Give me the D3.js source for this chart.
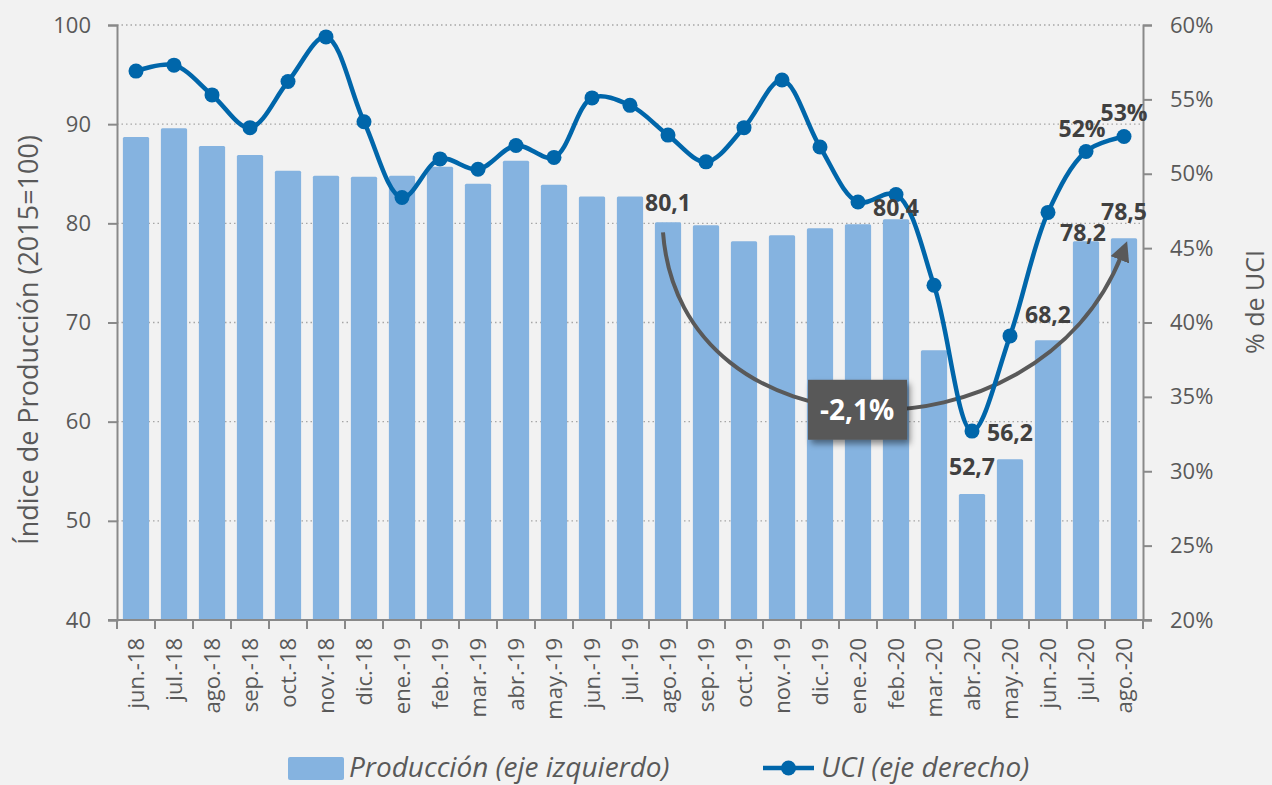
<!DOCTYPE html>
<html>
<head>
<meta charset="utf-8">
<script src="https://cdn.jsdelivr.net/npm/d3@7"></script>
<style>
  body { margin: 0; background: #f2f2f2; }
  svg { display: block; font-family: "Open Sans", sans-serif; }
</style>
</head>
<body>
<svg id="chart" width="1272" height="785"></svg>
<script>
let months = ['jun.-18','jul.-18','ago.-18','sep.-18','oct.-18','nov.-18','dic.-18',
  'ene.-19','feb.-19','mar.-19','abr.-19','may.-19','jun.-19','jul.-19','ago.-19',
  'sep.-19','oct.-19','nov.-19','dic.-19','ene.-20','feb.-20','mar.-20','abr.-20',
  'may.-20','jun.-20','jul.-20','ago.-20']

// indice de produccion (eje izquierdo)
let produccion = [88.7, 89.6, 87.8, 86.9, 85.3, 84.8, 84.7, 84.8, 85.7, 84.0, 86.3, 83.9,
  82.7, 82.7, 80.1, 79.8, 78.2, 78.8, 79.5, 79.9, 80.4, 67.2, 52.7, 56.2, 68.2, 78.2, 78.5]

// utilizacion de capacidad instalada, % (eje derecho)
let uci = [56.9, 57.3, 55.3, 53.1, 56.2, 59.2, 53.5, 48.4, 51.0, 50.3, 51.9, 51.1,
  55.1, 54.6, 52.6, 50.8, 53.1, 56.3, 51.8, 48.1, 48.6, 42.5, 32.7, 39.1, 47.4, 51.5, 52.5]

let leftTicks = [40, 50, 60, 70, 80, 90, 100]
let rightTicks = [20, 25, 30, 35, 40, 45, 50, 55, 60]

let barLabels = ['80,1', '80,4', '52,7', '56,2', '68,2', '78,2', '78,5']
let barLabelMonths = ['ago.-19', 'feb.-20', 'abr.-20', 'may.-20', 'jun.-20', 'jul.-20', 'ago.-20']
let uciLabels = ['52%', '53%']
let uciLabelMonths = ['jul.-20', 'ago.-20']
let changeText = '-2,1%'

let svg = d3.select('#chart')

let plotLeft = 117, plotRight = 1143, plotTop = 25, plotBottom = 620

let x = d3.scaleBand()
  .domain(months)
  .range([plotLeft, plotRight])
  .paddingInner(0.31)
  .paddingOuter(0.155)

let yL = d3.scaleLinear().domain([40, 100]).range([plotBottom, plotTop])
let yR = d3.scaleLinear().domain([20, 60]).range([plotBottom, plotTop])

let axisColor = '#898989'
let textColor = '#595959'
let barColor = '#85b3e0'
let lineColor = '#0066aa'

let defs = svg.append('defs')
let shadow = defs.append('filter').attr('id', 'shadow')
  .attr('x', '-30%').attr('y', '-30%').attr('width', '160%').attr('height', '170%')
shadow.append('feDropShadow')
  .attr('dx', 3).attr('dy', 4).attr('stdDeviation', 3)
  .attr('flood-color', '#000').attr('flood-opacity', 0.45)

defs.append('marker')
  .attr('id', 'arrow')
  .attr('viewBox', '0 0 10 10')
  .attr('refX', 3).attr('refY', 5)
  .attr('markerWidth', 5).attr('markerHeight', 5)
  .attr('orient', 'auto')
  .append('path')
  .attr('d', 'M0,0 L10,5 L0,10 z')
  .attr('fill', '#595959')

// grid lines
svg.append('g')
  .selectAll('line')
  .data(leftTicks.slice(1))
  .enter()
  .append('line')
  .attr('x1', plotLeft).attr('x2', plotRight)
  .attr('y1', (d) => yL(d)).attr('y2', (d) => yL(d))
  .attr('stroke', '#a6a6a6')
  .attr('stroke-width', 1.3)
  .attr('stroke-dasharray', '1.5,3')

// bars
svg.append('g')
  .selectAll('rect')
  .data(produccion)
  .enter()
  .append('rect')
  .attr('x', (d, i) => x(months[i]))
  .attr('y', (d) => yL(d))
  .attr('width', x.bandwidth())
  .attr('height', (d) => yL(40) - yL(d))
  .attr('fill', barColor)
  .attr('rx', 1.5)

// left axis
let axL = svg.append('g')
  .attr('transform', 'translate(' + plotLeft + ',0)')
  .call(d3.axisLeft(yL).tickValues(leftTicks).tickSize(9).tickPadding(17))
axL.select('.domain').attr('stroke', axisColor).attr('stroke-width', 2)
axL.selectAll('.tick line').attr('stroke', axisColor).attr('stroke-width', 2)
axL.selectAll('.tick text')
  .attr('fill', textColor)
  .style('font-size', '22px')
  .style('font-family', '"Open Sans", sans-serif')

// right axis
let axR = svg.append('g')
  .attr('transform', 'translate(' + plotRight + ',0)')
  .call(d3.axisRight(yR).tickValues(rightTicks).tickSize(9).tickPadding(18)
    .tickFormat((d) => d + '%'))
axR.select('.domain').attr('stroke', axisColor).attr('stroke-width', 2)
axR.selectAll('.tick line').attr('stroke', axisColor).attr('stroke-width', 2)
axR.selectAll('.tick text')
  .attr('fill', textColor)
  .style('font-size', '22px')
  .style('font-family', '"Open Sans", sans-serif')

// bottom axis
let step = x.step()
let axB = svg.append('g')
  .attr('transform', 'translate(0,' + plotBottom + ')')
  .call(d3.axisBottom(x).tickSize(0))
axB.select('.domain').remove()
axB.selectAll('.tick text')
  .attr('transform', 'rotate(-90)')
  .attr('text-anchor', 'end')
  .attr('x', -18)
  .attr('y', 0)
  .attr('dy', '0.36em')
  .attr('fill', textColor)
  .style('font-size', '22px')
  .style('font-family', '"Open Sans", sans-serif')

svg.append('line')
  .attr('x1', plotLeft - 9).attr('x2', plotRight + 9)
  .attr('y1', plotBottom).attr('y2', plotBottom)
  .attr('stroke', axisColor).attr('stroke-width', 2)

svg.append('g')
  .selectAll('line')
  .data(d3.range(months.length + 1))
  .enter()
  .append('line')
  .attr('x1', (k) => plotLeft + k * step).attr('x2', (k) => plotLeft + k * step)
  .attr('y1', plotBottom).attr('y2', plotBottom + 9)
  .attr('stroke', axisColor).attr('stroke-width', 2)

// axis titles
svg.append('text')
  .attr('transform', 'translate(29,' + 340 + ') rotate(-90)')
  .attr('text-anchor', 'middle')
  .attr('dy', '0.35em')
  .attr('fill', textColor)
  .style('font-size', '27px')
  .text('Índice de Producción (2015=100)')

svg.append('text')
  .attr('transform', 'translate(1255,' + 302 + ') rotate(-90)')
  .attr('text-anchor', 'middle')
  .attr('dy', '0.35em')
  .attr('fill', textColor)
  .style('font-size', '25px')
  .text('% de UCI')

// change arrow
let i0 = months.indexOf('ago.-19')
let i1 = months.indexOf('ago.-20')
let sx = x(months[i0]) + x.bandwidth() / 2 - 5
let sy = yL(produccion[i0]) + 10
let ex = x(months[i1]) + x.bandwidth() / 2 - 2
let ey = yL(produccion[i1]) + 16
let c1 = [sx + 17, sy + 228]
let c2 = [ex - 85, ey + 216]

let arc = d3.path()
arc.moveTo(sx, sy)
arc.bezierCurveTo(c1[0], c1[1], c2[0], c2[1], ex, ey)

svg.append('path')
  .attr('d', arc.toString())
  .attr('fill', 'none')
  .attr('stroke', '#595959')
  .attr('stroke-width', 4)
  .attr('marker-end', 'url(#arrow)')

// uci line
let line = d3.line()
  .x((d, i) => x(months[i]) + x.bandwidth() / 2)
  .y((d) => yR(d))
  .curve(d3.curveCatmullRom.alpha(0.5))

svg.append('path')
  .datum(uci)
  .attr('d', line)
  .attr('fill', 'none')
  .attr('stroke', lineColor)
  .attr('stroke-width', 4.5)

svg.append('g')
  .selectAll('circle')
  .data(uci)
  .enter()
  .append('circle')
  .attr('cx', (d, i) => x(months[i]) + x.bandwidth() / 2)
  .attr('cy', (d) => yR(d))
  .attr('r', 7.5)
  .attr('fill', lineColor)

// change box
let t = 0.5
let mx = (1 - t) ** 3 * sx + 3 * (1 - t) ** 2 * t * c1[0] + 3 * (1 - t) * t * t * c2[0] + t ** 3 * ex
let my = (1 - t) ** 3 * sy + 3 * (1 - t) ** 2 * t * c1[1] + 3 * (1 - t) * t * t * c2[1] + t ** 3 * ey
let bx = mx - 10, by = my

svg.append('rect')
  .attr('x', bx - 49).attr('y', by - 30)
  .attr('width', 99).attr('height', 60)
  .attr('fill', '#595959')
  .attr('filter', 'url(#shadow)')

svg.append('text')
  .attr('x', bx).attr('y', by)
  .attr('dy', '0.36em')
  .attr('text-anchor', 'middle')
  .attr('fill', '#ffffff')
  .style('font-size', '28px')
  .style('font-weight', 'bold')
  .text(changeText)

// data labels
let barNudge = [[0, -20], [0, -12], [0, -27], [0, -27], [0, -26], [-3, -8], [0, -26]]
svg.append('g')
  .selectAll('text')
  .data(barLabels)
  .enter()
  .append('text')
  .attr('x', (d, k) => x(barLabelMonths[k]) + x.bandwidth() / 2 + barNudge[k][0])
  .attr('y', (d, k) => yL(produccion[months.indexOf(barLabelMonths[k])]) + barNudge[k][1])
  .attr('dy', '0.36em')
  .attr('text-anchor', 'middle')
  .attr('fill', '#404040')
  .style('font-size', '23px')
  .style('font-weight', 'bold')
  .text((d) => d)

let uciNudge = [[-4, -23], [0, -24]]
svg.append('g')
  .selectAll('text')
  .data(uciLabels)
  .enter()
  .append('text')
  .attr('x', (d, k) => x(uciLabelMonths[k]) + x.bandwidth() / 2 + uciNudge[k][0])
  .attr('y', (d, k) => yR(uci[months.indexOf(uciLabelMonths[k])]) + uciNudge[k][1])
  .attr('dy', '0.36em')
  .attr('text-anchor', 'middle')
  .attr('fill', '#404040')
  .style('font-size', '23px')
  .style('font-weight', 'bold')
  .text((d) => d)

// legend
let legend = svg.append('g')
legend.append('rect')
  .attr('x', 288).attr('y', 757)
  .attr('width', 56).attr('height', 23)
  .attr('rx', 2)
  .attr('fill', barColor)
legend.append('text')
  .attr('x', 349).attr('y', 777)
  .attr('fill', textColor)
  .style('font-size', '28px')
  .style('font-style', 'italic')
  .text('Producción (eje izquierdo)')

legend.append('line')
  .attr('x1', 763).attr('x2', 814)
  .attr('y1', 768).attr('y2', 768)
  .attr('stroke', lineColor).attr('stroke-width', 4.5)
legend.append('circle')
  .attr('cx', 788.5).attr('cy', 768).attr('r', 7.5)
  .attr('fill', lineColor)
legend.append('text')
  .attr('x', 821).attr('y', 777)
  .attr('fill', textColor)
  .style('font-size', '28px')
  .style('font-style', 'italic')
  .text('UCI (eje derecho)')
</script>
</body>
</html>
